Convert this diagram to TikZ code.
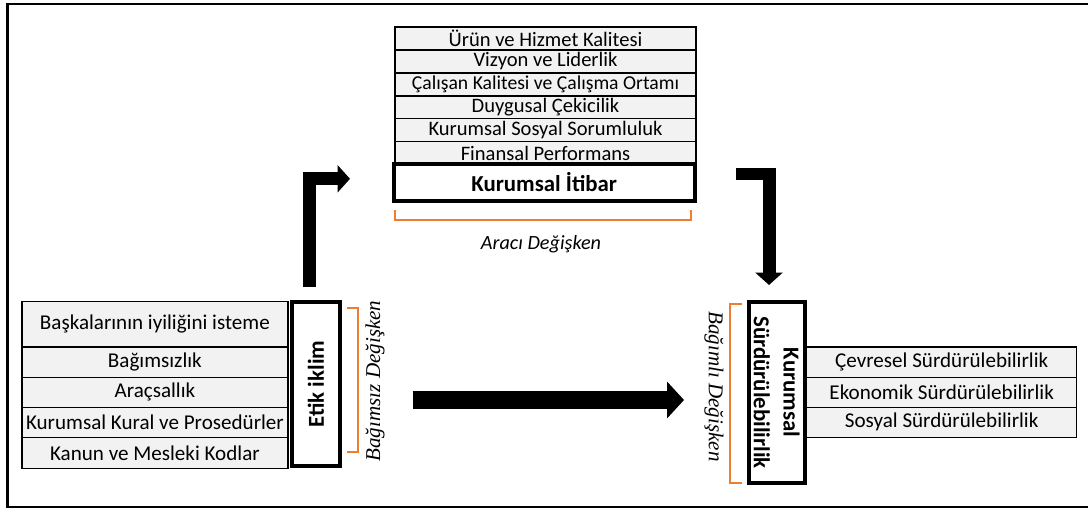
\documentclass[tikz,border=0pt]{standalone}
\usepackage{fontspec}
\setmainfont{Carlito}
\newfontfamily\serifit{Liberation Serif}
\usetikzlibrary{arrows.meta}
\definecolor{kutu}{RGB}{242,242,242}
\definecolor{turuncu}{RGB}{237,125,49}
\tikzset{
  alt/.style={draw, line width=0.85pt, fill=kutu, inner sep=0pt, font=\fontsize{11.7}{13}\selectfont},
  yan/.style={alt, font=\fontsize{12}{14}\selectfont},
  ana/.style={draw, line width=2.3pt, fill=white, inner sep=0pt, align=center, font=\fontsize{13}{17}\selectfont\bfseries},
  ok/.style={line width=0.26cm, -{Triangle[length=0.25cm,width=0.54cm]}},
  parantez/.style={draw=turuncu, line width=1.4pt},
  etiket/.style={font=\fontsize{12}{14}\selectfont\serifit\itshape}
}
\begin{document}
\begin{tikzpicture}[x=0.02cm, y=-0.02cm]
        \useasboundingbox (0,0) rectangle (1088,510);
        % Çerçeve
        \draw[line width=1.7pt] (7.5,4) rectangle (1095,507);

        % Aracı değişken (üst)
        \node[alt, minimum width=6.02cm, minimum height=0.46cm] (u1) at (545.5,38.3) {Ürün ve Hizmet Kalitesi};
        \node[alt, minimum width=6.02cm, minimum height=0.46cm] (u2) at (545.5,61.3) {Vizyon ve Liderlik};
        \node[alt, minimum width=6.02cm, minimum height=0.46cm, font=\fontsize{11.2}{13}\selectfont] (u3) at (545.5,84.3) {Çalışan Kalitesi ve Çalışma Ortamı};
        \node[alt, minimum width=6.02cm, minimum height=0.46cm] (u4) at (545.5,107.3) {Duygusal Çekicilik};
        \node[alt, minimum width=6.02cm, minimum height=0.46cm] (u5) at (545.5,130.2) {Kurumsal Sosyal Sorumluluk};
        \node[alt, minimum width=6.02cm, minimum height=0.46cm] (u6) at (545.5,153.2) {Finansal Performans};
        \node[ana, minimum width=6.02cm, minimum height=0.74cm] (itibar) at (544.2,182.2) {Kurumsal İtibar};
        \draw[parantez] (395,210) -- (395,220) -- (691,220) -- (691,210);
        \node[font=\fontsize{11.5}{13}\selectfont\itshape] (araci) at (541,244) {Aracı Değişken};

        % Bağımsız değişken (sol)
        \node[yan, minimum width=5.32cm, minimum height=0.9cm] (s1) at (154.9,324.2) {Başkalarının iyiliğini isteme};
        \node[yan, minimum width=5.32cm, minimum height=0.61cm] (s2) at (154.9,362) {Bağımsızlık};
        \node[yan, minimum width=5.32cm, minimum height=0.6cm] (s3) at (154.9,392.3) {Araçsallık};
        \node[yan, minimum width=5.32cm, minimum height=0.6cm] (s4) at (154.9,422.3) {Kurumsal Kural ve Prosedürler};
        \node[yan, minimum width=5.32cm, minimum height=0.62cm] (s5) at (154.9,452.8) {Kanun ve Mesleki Kodlar};
        \node[ana, rotate=90, minimum width=3.28cm, minimum height=0.95cm] (etik) at (316,384) {Etik iklim};
        \draw[parantez] (347,308) -- (358,308) -- (358,452) -- (347,452);
        \node[etiket, rotate=90] (bagimsiz) at (375,381) {Bağımsız Değişken};

        % Bağımlı değişken (sağ)
        \node[yan, minimum width=5.4cm, minimum height=0.61cm] (r1) at (941.7,362) {Çevresel Sürdürülebilirlik};
        \node[yan, minimum width=5.4cm, minimum height=0.6cm] (r2) at (941.7,392.3) {Ekonomik Sürdürülebilirlik};
        \node[yan, minimum width=5.4cm, minimum height=0.6cm] (r3) at (941.7,422.3) {Sosyal Sürdürülebilirlik};
        \node[ana, rotate=-90, minimum width=3.62cm, minimum height=1.12cm] (surd) at (776.7,392.5) {Kurumsal\\Sürdürülebilirlik};
        \draw[parantez] (742,304) -- (730,304) -- (730,483) -- (742,483);
        \node[etiket, rotate=-90] (bagimli) at (714,386.5) {Bağımlı Değişken};

        % Oklar
        \coordinate (o1) at (309.5,287);
        \coordinate (o2) at (350,178.8);
        \coordinate (o3) at (736,174);
        \coordinate (o4) at (769,285);
        \coordinate (o5) at (412.7,400);
        \coordinate (o6) at (684,400);
        \draw[ok] (o1) |- (o2);
        \draw[ok] (o3) -| (o4);
        \draw[ok, line width=0.37cm, -{Triangle[length=0.34cm,width=0.72cm]}] (o5) -- (o6);
    \end{tikzpicture}
\end{document}
